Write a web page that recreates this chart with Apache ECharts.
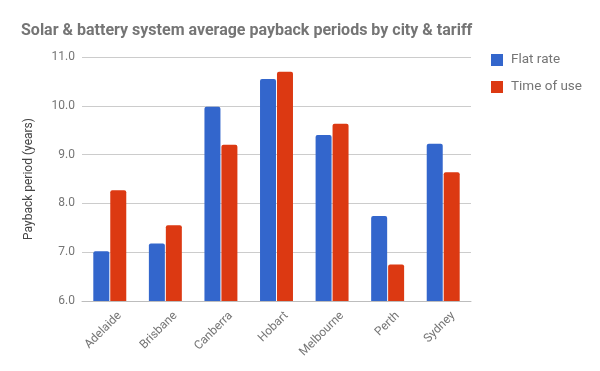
<!DOCTYPE html>
<html><head><meta charset="utf-8">
<script src="https://cdn.jsdelivr.net/npm/echarts@6/dist/echarts.min.js"></script>
<style>html,body{margin:0;padding:0;background:#fff}#c{width:600px;height:371px}</style>
</head><body><div id="c"></div>
<script>
const categories = ["Adelaide","Brisbane","Canberra","Hobart","Melbourne","Perth","Sydney"];
const flatRate = [7.02, 7.18, 9.98, 10.55, 9.40, 7.74, 9.22];
const timeOfUse = [8.27, 7.55, 9.20, 10.70, 9.63, 6.75, 8.64];
const seriesNames = ["Flat rate","Time of use"];
const yTicks = {min: 6, max: 11, interval: 1};

const chart = echarts.init(document.getElementById('c'));
chart.setOption({
  animation: false,
  title: {
    text: "Solar & battery system average payback periods by city & tariff",
    left: 16, top: 18,
    textStyle: {fontFamily: 'Roboto', fontWeight: 'bold', fontSize: 16, color: '#757575'}
  },
  legend: {
    orient: 'vertical', left: 486, top: 48,
    itemWidth: 12, itemHeight: 12, itemGap: 13,
    icon: 'rect',
    textStyle: {fontFamily: 'Roboto', fontSize: 13.5, color: '#757575', padding: [0,0,0,3]},
    data: seriesNames
  },
  grid: {left: 82, right: 129, top: 57, bottom: 70},
  xAxis: {
    type: 'category', data: categories,
    axisTick: {show: false},
    axisLine: {lineStyle: {color: '#bdbdbd'}},
    axisLabel: {rotate: 45, fontFamily: 'Roboto', fontSize: 12, color: '#757575', margin: 3,
                verticalAlign: 'top', lineHeight: 28}
  },
  yAxis: {
    type: 'value', min: yTicks.min, max: yTicks.max, interval: yTicks.interval,
    name: 'Payback period (years)', nameLocation: 'middle', nameGap: 47,
    nameTextStyle: {fontFamily: 'Roboto', fontSize: 12, color: '#444'},
    axisLabel: {formatter: v => v.toFixed(1), fontFamily: 'Roboto', fontSize: 12, color: '#757575', margin: 7},
    splitLine: {lineStyle: {color: '#cccccc'}},
    axisLine: {show: false}, axisTick: {show: false}
  },
  series: [
    {name: seriesNames[0], type: 'bar', data: flatRate, barWidth: 16, barGap: '6%',
     itemStyle: {color: '#3366cc', borderRadius: [2,2,0,0]}},
    {name: seriesNames[1], type: 'bar', data: timeOfUse, barWidth: 16,
     itemStyle: {color: '#dc3912', borderRadius: [2,2,0,0]}}
  ]
});
</script></body></html>
